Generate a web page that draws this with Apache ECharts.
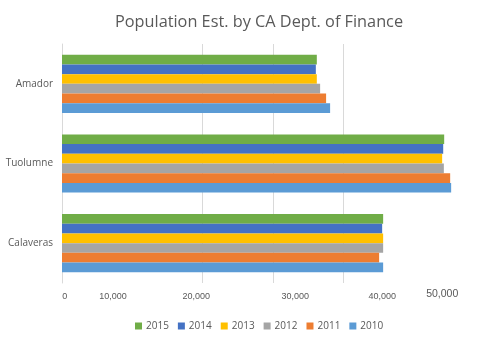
<!DOCTYPE html>
<html>
<head>
<meta charset="utf-8">
<script src="https://cdn.jsdelivr.net/npm/echarts@6/dist/echarts.min.js"></script>
<style>html,body{margin:0;padding:0;background:#fff}#c{width:487px;height:340px}</style>
</head>
<body>
<div id="c"></div>
<script>
// Data (bottom to top category order, as ECharts draws a category y axis)
var categories = ['Calaveras', 'Tuolumne', 'Amador'];
var years = ['2015', '2014', '2013', '2012', '2011', '2010'];
var values2015 = [45660, 54340, 36230];
var values2014 = [45520, 54200, 36090];
var values2013 = [45660, 54050, 36230];
var values2012 = [45660, 54290, 36700];
var values2011 = [45090, 55190, 37550];
var values2010 = [45660, 55330, 38120];
var tickLabels = ['0', '10,000', '20,000', '30,000', '40,000', '50,000'];

var seriesValues = [values2015, values2014, values2013, values2012, values2011, values2010];
var colors = ['#70AD47', '#4472C4', '#FFC000', '#A5A5A5', '#ED7D31', '#5B9BD5'];
// where each tick label sits along the value axis (as drawn in the reference)
var labelAt = [400, 7250, 19100, 33150, 45520, 54060];

var chart = echarts.init(document.getElementById('c'), null, {renderer: 'canvas'});
var option = {
  animation: false,
  backgroundColor: '#ffffff',
  title: {
    text: 'Population Est. by CA Dept. of Finance',
    left: 110, top: 9,
    textStyle: {fontFamily: 'Open Sans', fontSize: 16.3, fontWeight: 'normal', color: '#595959'}
  },
  legend: {
    data: years,
    bottom: 4, left: 130,
    itemWidth: 7, itemHeight: 7, itemGap: 9,
    icon: 'rect',
    textStyle: {fontFamily: 'Open Sans', fontSize: 10, color: '#595959', padding: [0, 0, 0, -1]}
  },
  grid: {left: 62, right: 3, top: 44, bottom: 57, containLabel: false},
  xAxis: {
    type: 'value', min: 0, max: 60000, interval: 10000,
    axisLine: {show: false}, axisTick: {show: false},
    splitLine: {show: true, lineStyle: {width: 1, color: ['#d9d9d9', 'rgba(0,0,0,0)', '#d9d9d9', '#d9d9d9', '#d9d9d9', 'rgba(0,0,0,0)', 'rgba(0,0,0,0)']}},
    axisLabel: {
      customValues: labelAt,
      margin: 9,
      fontFamily: 'Liberation Sans', fontSize: 9, color: '#595959',
      formatter: function (v, i) {
        var k = labelAt.indexOf(v);
        if (k < 0) k = i;
        var t = tickLabels[k];
        return k === tickLabels.length - 1 ? '{big|' + t + '}' : t;
      },
      rich: {big: {fontFamily: 'Liberation Sans', fontSize: 10.5, color: '#595959', padding: [-3, 0, 0, 0]}}
    }
  },
  yAxis: {
    type: 'category', data: categories,
    axisLine: {show: true, lineStyle: {color: '#d9d9d9'}}, axisTick: {show: false},
    axisLabel: {fontFamily: 'Open Sans', fontSize: 10, color: '#595959', margin: 9}
  },
  series: years.map(function (y, i) {
    return {
      name: y, type: 'bar', data: seriesValues[i],
      barGap: '0%', barCategoryGap: '27%',
      itemStyle: {color: colors[i]}
    };
  })
};
chart.setOption(option);
</script>
</body>
</html>
